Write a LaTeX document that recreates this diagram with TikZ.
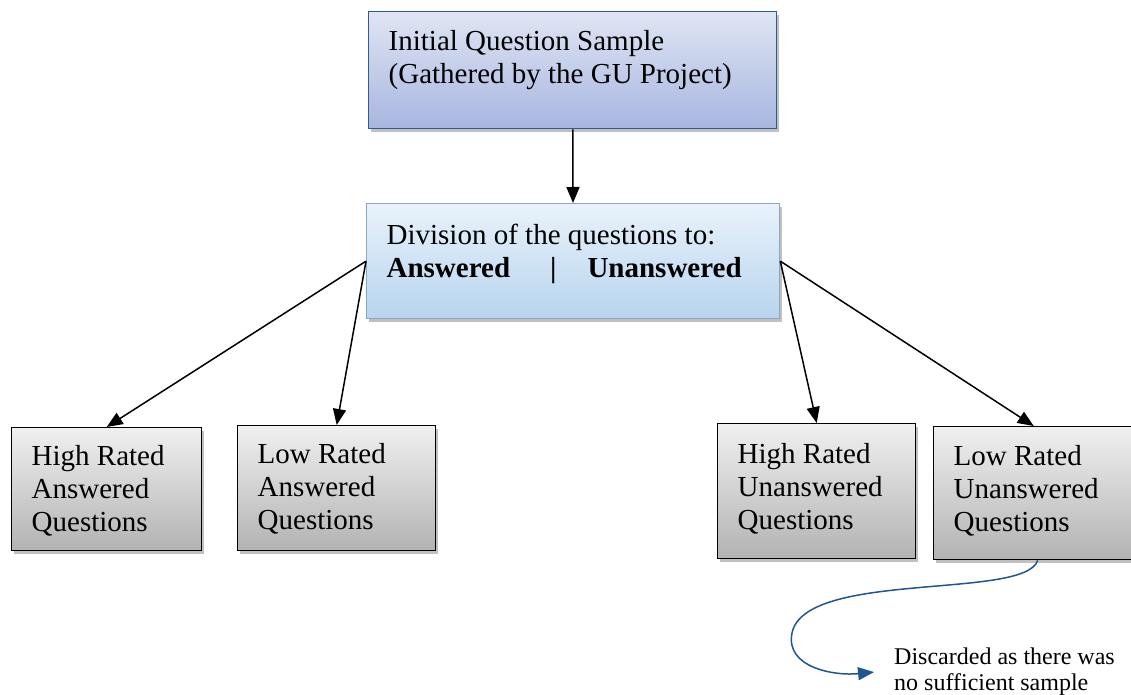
\documentclass[tikz,border=0pt]{standalone}
\usepackage{fontspec}
\setmainfont{Liberation Serif}
\usetikzlibrary{arrows.meta,shadows}

\definecolor{topblue}{HTML}{DFE5F3}
\definecolor{botblue}{HTML}{A7B6E0}
\definecolor{edgeblue}{HTML}{2F5E8E}
\definecolor{toplight}{HTML}{E9F2FB}
\definecolor{botlight}{HTML}{B7D4EE}
\definecolor{edgelight}{HTML}{8CA7BE}
\definecolor{curveblue}{HTML}{1F5591}

% top aligned text inside a box of fixed size
\newcommand{\bx}[3]{\parbox[c][#1pt][t]{#2pt}{\raggedright #3}}

\begin{document}
\begin{tikzpicture}[
    x=1pt, y=-1pt,
    every node/.style={font=\fontsize{29}{33}\selectfont},
    bxs/.style={rectangle, draw, anchor=north west, inner xsep=20pt,
                drop shadow={shadow xshift=2.5pt, shadow yshift=-3pt,
                             fill=black!45, opacity=0.55}},
    topbox/.style={bxs, inner ysep=19pt, draw=edgeblue, line width=1.4pt,
                   top color=topblue, bottom color=botblue},
    divbox/.style={bxs, inner ysep=20pt, draw=edgelight, line width=1.3pt,
                   top color=toplight, bottom color=botlight},
    gbox/.style={bxs, inner ysep=18pt, draw=black, line width=1.4pt,
                 top color=black!6, bottom color=black!30},
    e/.style={-{Triangle[length=16pt, width=13pt]}, line width=1.5pt},
    bl/.style={-{Triangle[length=16pt, width=13pt]}, line width=1.5pt, draw=curveblue,
               fill=none},
  ]
  \useasboundingbox (0,0) rectangle (1131,695);
  \node[topbox] (init) at (368,11)
    {\bx{79}{368}{Initial Question Sample\\(Gathered by the GU Project)}};
  \node[divbox] (div) at (366,203)
    {\bx{75}{373}{Division of the questions to:\\
     \textbf{Answered\hspace{40pt}|\hspace{31pt}Unanswered}}};
  \node[gbox] (hra) at (11,427) {\bx{87}{150}{High Rated\\Answered\\Questions}};
  \node[gbox] (lra) at (237,425) {\bx{89}{158}{Low Rated\\Answered\\Questions}};
  \node[gbox, inner ysep=20pt] (hru) at (717,423)
    {\bx{95}{158}{High Rated\\Unanswered\\Questions}};
  \node[gbox, inner ysep=19pt] (lru) at (933,426)
    {\bx{95}{160}{Low Rated\\Unanswered\\Questions}};
  \node[anchor=north west, inner sep=0pt, align=left,
        font=\fontsize{24}{26}\selectfont] (disc) at (894,648)
    {Discarded as there was\\no sufficient sample};

  \draw[e] (init) -- (div);
  \draw[e] (div.west) -- (hra.north);
  \draw[e] (div.west) -- (lra.north);
  \draw[e] (div.east) -- (hru.north);
  \draw[e] (div.east) -- (lru.north);
  \draw[bl] ([xshift=4pt]lru.south) .. controls (1025,600) and (805,570) .. (792,633)
    .. controls (785,668) and (835,676) .. ([xshift=-20pt]disc.west);
\end{tikzpicture}
\end{document}
